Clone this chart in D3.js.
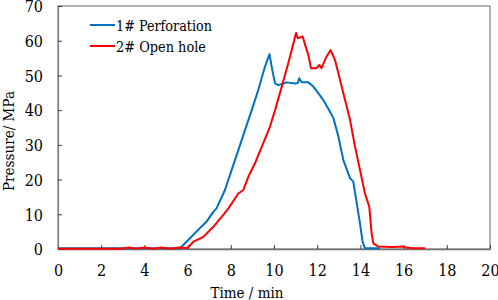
<!DOCTYPE html>
<html>
<head>
<meta charset="utf-8">
<script src="https://cdn.jsdelivr.net/npm/d3@7"></script>
<style>
  body { margin: 0; background: #fff; }
</style>
</head>
<body>
<script>
// 1# Perforation
const perfTime = [0, 5.65, 6.11, 6.57, 6.88, 7.19, 7.34, 7.73, 8.04, 8.35, 8.66, 8.97, 9.27, 9.58, 9.79, 9.92, 10.05, 10.2, 10.59, 10.97, 11.1, 11.17, 11.28, 11.59, 11.82, 12.05, 12.28, 12.51, 12.75, 12.98, 13.21, 13.52, 13.67, 13.83, 13.98, 14.1, 14.21, 14.9]
const perfPressure = [0.2, 0.2, 3.1, 6.0, 7.9, 10.7, 11.7, 17.0, 22.8, 28.5, 34.3, 40.0, 45.8, 52.5, 56.1, 51.6, 47.7, 47.2, 48.0, 47.7, 47.8, 49.2, 48, 48, 46.8, 44.9, 42.9, 40.5, 37.7, 32.4, 25.6, 20.4, 19.4, 13.2, 7.4, 2.1, 0.2, 0.2]

// 2# Open hole
const openTime = [0, 2.9, 3.3, 3.6, 4.0, 4.4, 4.8, 5.2, 5.6, 6.0, 6.27, 6.73, 7.19, 7.65, 7.89, 8.35, 8.58, 8.81, 9.12, 9.5, 9.81, 10.05, 10.36, 10.66, 10.9, 11.02, 11.1, 11.33, 11.44, 11.59, 11.71, 11.97, 12.1, 12.2, 12.43, 12.62, 12.82, 12.98, 13.21, 13.52, 13.75, 13.98, 14.21, 14.41, 14.52, 14.6, 14.83, 15.5, 16.0, 16.1, 16.45, 17.0]
const openPressure = [0.1, 0.1, 0.4, 0.1, 0.4, 0.1, 0.4, 0.1, 0.4, 0.3, 2.1, 3.5, 6.4, 9.8, 11.7, 16.0, 17.0, 20.8, 24.7, 30.4, 35.2, 40.0, 46.8, 53.5, 59.3, 62.2, 60.7, 61.2, 58.8, 55.9, 52.1, 52.1, 53, 52.1, 55.4, 57.3, 54.5, 50.6, 44.9, 37.2, 29.5, 22.8, 16.0, 12.2, 4.5, 1.6, 0.7, 0.6, 0.7, 0.4, 0.2, 0.2]

const xTicks = [0, 2, 4, 6, 8, 10, 12, 14, 16, 18, 20]
const yTicks = [0, 10, 20, 30, 40, 50, 60, 70]
const seriesNames = ['1# Perforation', '2# Open hole']
const seriesColors = ['#0070C0', '#FF0000']

const serif = '"DejaVu Serif Condensed", "DejaVu Serif", serif'
const width = 498
const height = 300
const margin = { top: 6, right: 8, bottom: 51, left: 58 }
const innerWidth = width - margin.left - margin.right
const innerHeight = height - margin.top - margin.bottom

const svg = d3.select('body').append('svg')
  .attr('width', width)
  .attr('height', height)
  .attr('font-family', serif)

const main = svg.append('g')
  .attr('transform', `translate(${margin.left}, ${margin.top})`)

const x = d3.scaleLinear().domain([0, 20]).range([0, innerWidth])
const y = d3.scaleLinear().domain([0, 70]).range([innerHeight, 0])

// frame
main.append('rect')
  .attr('width', innerWidth)
  .attr('height', innerHeight)
  .attr('fill', 'none')
  .attr('stroke', '#7f7f7f')
  .attr('stroke-width', 1.2)

//axes
const xAxis = main.append('g')
  .attr('transform', `translate(0, ${innerHeight})`)
  .call(d3.axisBottom(x).tickValues(xTicks).tickSizeInner(-4).tickSizeOuter(0).tickPadding(0))
  .attr('font-family', serif)
  .attr('font-size', 16)
xAxis.select('.domain').attr('stroke', '#6f6f6f').attr('stroke-width', 1.6)
xAxis.selectAll('line').attr('stroke', '#404040')
xAxis.selectAll('text')
  .attr('y', 26.5).attr('dy', null)
  .attr('fill', '#000')

const yAxis = main.append('g')
  .call(d3.axisLeft(y).tickValues(yTicks).tickSizeInner(-4).tickSizeOuter(0).tickPadding(15))
  .attr('font-family', serif)
  .attr('font-size', 16)
yAxis.select('.domain').attr('stroke', '#7f7f7f').attr('stroke-width', 1.2)
yAxis.selectAll('line').attr('stroke', '#404040')
yAxis.selectAll('text')
  .attr('dy', '0.36em')
  .attr('fill', '#000')

// titles
svg.append('text')
  .attr('x', 247)
  .attr('y', 298)
  .attr('text-anchor', 'middle')
  .attr('font-size', 15)
  .attr('textLength', 73)
  .attr('lengthAdjust', 'spacingAndGlyphs')
  .text('Time / min')

svg.append('text')
  .attr('transform', 'translate(14, 141) rotate(-90)')
  .attr('text-anchor', 'middle')
  .attr('font-size', 15)
  .attr('textLength', 100)
  .attr('lengthAdjust', 'spacingAndGlyphs')
  .text('Pressure/ MPa')

// lines
const line = d3.line()
  .x(d => x(d[0]))
  .y(d => y(d[1]))

const series = [
  d3.zip(perfTime, perfPressure),
  d3.zip(openTime, openPressure)
]

main.selectAll('path.series')
  .data(series)
  .enter()
  .append('path')
  .attr('class', 'series')
  .attr('d', d => line(d))
  .attr('fill', 'none')
  .attr('stroke', (d, i) => seriesColors[i])
  .attr('stroke-width', 2)
  .attr('stroke-linejoin', 'round')

//legend
const legend = svg.append('g')
  .attr('transform', 'translate(90, 25)')

const legendWidths = [96, 90]

const items = legend.selectAll('g')
  .data(seriesNames)
  .enter()
  .append('g')
  .attr('transform', (d, i) => `translate(0, ${i * 21})`)

items.append('line')
  .attr('x1', 0).attr('x2', 25)
  .attr('stroke', (d, i) => seriesColors[i])
  .attr('stroke-width', 2)

items.append('text')
  .attr('x', 26)
  .attr('y', 5.5)
  .attr('font-size', 15)
  .attr('textLength', (d, i) => legendWidths[i])
  .attr('lengthAdjust', 'spacingAndGlyphs')
  .text(d => d)
</script>
</body>
</html>
